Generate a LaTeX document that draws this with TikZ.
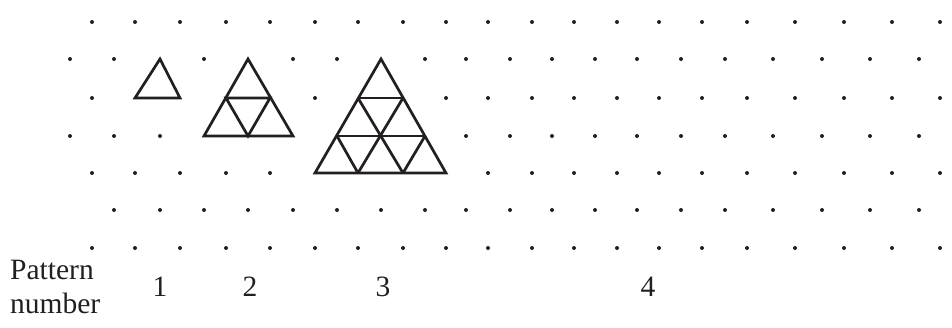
\documentclass[tikz,border=0pt]{standalone}
\usepackage{fontspec}
\setmainfont{Liberation Serif}
\definecolor{ink}{HTML}{231F20}
\begin{document}
\begin{tikzpicture}[x=1pt,y=-1pt,
  dot/.style={fill=ink},
  tri/.style={draw=ink,line width=2.7pt,line join=miter},
  lbl/.style={font=\fontsize{29.5}{31}\selectfont,text=ink,inner sep=0pt}]
\useasboundingbox (0,0) rectangle (952,327);
% grid coordinates
\foreach \r/\yy in {0/22,2/98,4/173,6/248}{
  \foreach \xx [count=\i from 0] in {92,135,180,226,270,315,358,403,446,488,532,574,617,659,702,747,795,844,892,940}{
    \coordinate (g\r-\i) at (\xx,\yy);}}
\foreach \r/\yy in {1/59,3/136,5/210}{
  \foreach \xx [count=\i from 0] in {70,114,160,204,248,293,337,381,425,466,510,552,595,637,681,725,773,822,870,919}{
    \coordinate (g\r-\i) at (\xx,\yy);}}
% dots
\foreach \i in {0,...,19} \fill[dot] (g0-\i) circle (2);
\foreach \i in {0,1,3,5,6,8,9,...,19} \fill[dot] (g1-\i) circle (2);
\foreach \i in {0,5,8,9,...,19} \fill[dot] (g2-\i) circle (2);
\foreach \i in {0,1,2,9,10,...,19} \fill[dot] (g3-\i) circle (2);
\foreach \i in {0,1,2,3,4,9,10,...,19} \fill[dot] (g4-\i) circle (2);
\foreach \i in {1,...,19} \fill[dot] (g5-\i) circle (2);
\foreach \i in {0,...,19} \fill[dot] (g6-\i) circle (2);
% pattern 1
\draw[tri] (g1-2) -- (g2-1) -- (g2-2) -- cycle;
% pattern 2
\draw[tri] (g1-4) -- (g3-3) -- (g3-5) -- cycle;
\draw[tri] (g2-3) -- (g2-4) -- (g3-4) -- cycle;
% pattern 3
\draw[tri] (g1-7) -- (g4-5) -- (g4-8) -- cycle;
\draw[tri] (g2-6) -- (g2-7);
\draw[tri] (g3-6) -- (g3-8);
\draw[tri] (g2-6) -- (g4-7);
\draw[tri] (g3-6) -- (g4-6);
\draw[tri] (g2-7) -- (g4-6);
\draw[tri] (g3-8) -- (g4-7);
% labels
\node[lbl,anchor=base west] (pat) at (10,279) {Pattern};
\node[lbl,anchor=base west] (num) at (10,313) {number};
\node[lbl,anchor=base] (l1) at (160,296) {1};
\node[lbl,anchor=base] (l2) at (250,296) {2};
\node[lbl,anchor=base] (l3) at (383,296) {3};
\node[lbl,anchor=base] (l4) at (648,296) {4};
\end{tikzpicture}
\end{document}
